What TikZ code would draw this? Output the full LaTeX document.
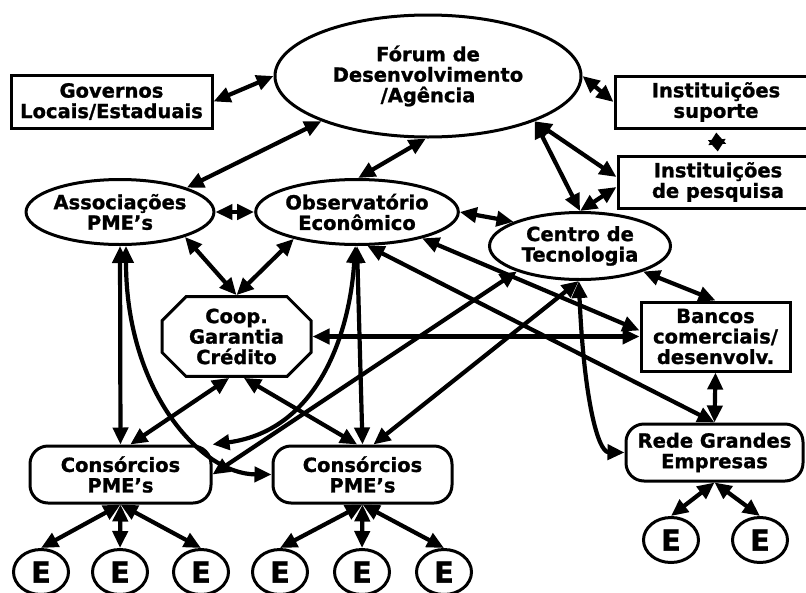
\documentclass[tikz,border=0pt]{standalone}
\usepackage{fontspec}
\setmainfont{DejaVu Sans}[BoldFeatures={FakeBold=1.2}]
\usetikzlibrary{arrows.meta,shapes.geometric,shapes.misc}

\newcommand{\diagfont}{\bfseries\fontsize{19.5}{20.5}\selectfont}
\newcommand{\efont}{\bfseries\fontsize{29}{29}\selectfont}

\tikzset{
  box/.style={draw, line width=3pt, inner sep=0pt, align=center, font=\diagfont},
  oval/.style={box, ellipse},
  roundbox/.style={box, rectangle, rounded corners=18pt},
  octo/.style={box, chamfered rectangle, chamfered rectangle xsep=12pt, chamfered rectangle ysep=12pt},
  firm/.style={draw, line width=3pt, ellipse, inner sep=0pt, minimum width=55pt, minimum height=45pt, font=\efont},
  link/.style={line width=4.2pt, <->, >={Triangle[length=17pt,width=15pt]}},
}

\begin{document}
\begin{tikzpicture}[x=1pt, y=-1pt]
    \useasboundingbox (0,0) rectangle (806,592);

    % top row
    \node[oval, minimum width=306pt, minimum height=122pt] (forum) at (428,76) {Fórum de\\Desenvolvimento\\/Agência};
    \node[box, minimum width=201pt, minimum height=53pt] (gov) at (111.5,101.5) {Governos\\Locais/Estaduais};
    \node[box, minimum width=202pt, minimum height=52pt] (supp) at (716,102) {Instituições\\suporte};
    \node[box, minimum width=200pt, minimum height=52pt] (pesq) at (718,182) {Instituições\\de pesquisa};

    % middle row
    \node[oval, minimum width=181pt, minimum height=65pt] (assoc) at (120,212) {Associações\\PME’s};
    \node[oval, minimum width=182pt, minimum height=65pt] (obs) at (357,212) {Observatório\\Econômico};
    \node[oval, minimum width=181pt, minimum height=67pt] (centro) at (580,246) {Centro de\\Tecnologia};
    \node[octo, minimum width=149pt, minimum height=71pt] (coop) at (236.5,336.5) {Coop.\\Garantia\\Crédito};
    \node[box, minimum width=149pt, minimum height=69pt] (bancos) at (715.5,336.5) {Bancos\\comerciais/\\desenvolv.};

    % consortia and large firms
    \node[roundbox, minimum width=181pt, minimum height=57pt] (cons1) at (120.5,474.5) {Consórcios\\PME’s};
    \node[roundbox, minimum width=179pt, minimum height=57pt] (cons2) at (362.5,474.5) {Consórcios\\PME’s};
    \node[roundbox, minimum width=177pt, minimum height=57pt] (rede) at (714.5,452.5) {Rede Grandes\\Empresas};

    % firms
    \node[firm] (e1) at (41,572) {E};
    \node[firm] (e2) at (120,572) {E};
    \node[firm] (e3) at (201,572) {E};
    \node[firm] (e4) at (280,572) {E};
    \node[firm] (e5) at (362,572) {E};
    \node[firm] (e6) at (444,572) {E};
    \node[firm] (e7) at (671,540) {E};
    \node[firm] (e8) at (760,540) {E};

    % links around the forum
    \draw[link] (gov.east) -- (forum.west);
    \draw[link] (forum.203) -- (assoc.20);
    \draw[link] (forum.268) -- (obs.88);
    \draw[link] (forum.east) -- (supp.west);
    \draw[link, >={Triangle[length=12pt,width=17pt]}, shorten <=3pt, shorten >=3pt] (supp.south) -- (pesq.north);
    \draw[link] (forum.337) -- (centro.north);
    \draw[link] (forum.337) -- ([yshift=5pt]pesq.west);
    \draw[link] (centro.north) -- ([yshift=-5pt]pesq.west);

    % middle links
    \draw[link] (assoc.east) -- (obs.west);
    \draw[link] (assoc.-21) -- (coop.north);
    \draw[link] (obs.203) -- (coop.north);
    \draw[link] (obs.east) -- (centro.160);
    \draw[link] (coop.east) -- (bancos.west);
    \draw[link] (obs.-22) -- ([yshift=6pt]bancos.west);
    \draw[link] (centro.-22) -- (bancos.north);
    \draw[link] (bancos.south) -- (rede.north);

    % down to the consortia
    \draw[link] (assoc.south) -- (cons1.north);
    \draw[link] (assoc.-80) .. controls (126,390) and (200,474) .. (cons2.west);
    \draw[link] (obs.-93) .. controls (350,330) and (320,430) .. (cons1.north east);
    \draw[link] (obs.south) -- (cons2.north);
    \draw[link] (obs.-73) -- (rede.north);
    \draw[link] (coop.-100) -- (cons1.72);
    \draw[link] (coop.-80) -- (cons2.100);
    \draw[link] (centro.202) -- (cons1.east);
    \draw[link] (centro.-92) -- (cons2.70);
    \draw[link] (centro.-92) .. controls (584,400) and (598,452) .. (rede.west);

    % firms
    \draw[link] (cons1.south) -- (e1.north);
    \draw[link] (cons1.south) -- (e2.north);
    \draw[link] (cons1.south) -- (e3.north);
    \draw[link] (cons2.south) -- (e4.north);
    \draw[link] (cons2.south) -- (e5.north);
    \draw[link] (cons2.south) -- (e6.north);
    \draw[link] (rede.south) -- (e7.north);
    \draw[link] (rede.south) -- (e8.north);
\end{tikzpicture}
\end{document}
